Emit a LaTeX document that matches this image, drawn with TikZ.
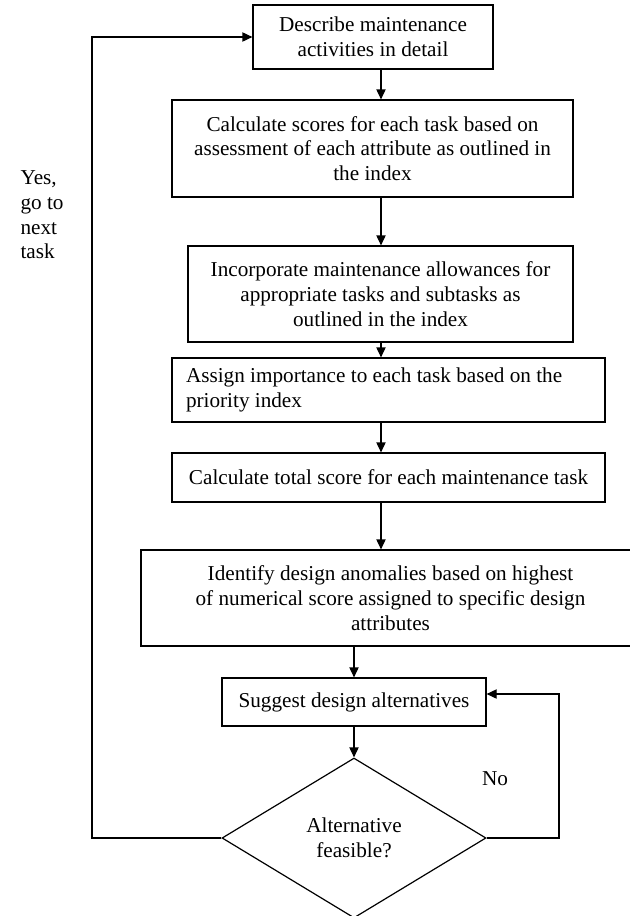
\documentclass[tikz,border=0pt]{standalone}
\usepackage{fontspec}
\setmainfont{Liberation Serif}
\usetikzlibrary{arrows.meta,positioning,shapes.geometric}
\newcommand\fsz{\fontsize{10.6}{12.4}\selectfont}

\begin{document}
\begin{tikzpicture}[x=0.5pt,y=-0.5pt,line width=0.6pt,
  box/.style={draw,rectangle,inner sep=0pt,align=center,font=\fsz},
  arr/.style={-{Triangle[length=5pt,width=4.6pt]}}]
  \useasboundingbox (0,0) rectangle (630,916);
  % process boxes, one unit = 1px of the page
  \node[box,minimum width=120pt,minimum height=32pt] (b1) at (373,37)
    {Describe maintenance\\activities in detail};
  \node[box,minimum width=200.5pt,minimum height=48.5pt] (b2) at (372.5,148.5)
    {Calculate scores for each task based on\\assessment of each attribute as outlined in\\the index};
  \node[box,minimum width=192.5pt,minimum height=48pt] (b3) at (380.5,294)
    {Incorporate maintenance allowances for\\appropriate tasks and subtasks as\\outlined in the index};
  \node[box,minimum width=216.5pt,minimum height=32pt,align=flush left,text width=202.5pt] (b4) at (388.5,390)
    {Assign importance to each task based on the\\priority index};
  \node[box,minimum width=216.5pt,minimum height=24.5pt] (b5) at (388.5,477.5)
    {Calculate total score for each maintenance task};
  \node[box,minimum width=249.5pt,minimum height=48pt] (b6) at (390.5,598)
    {Identify design anomalies based on highest\\of numerical score assigned to specific design\\attributes};
  \node[box,minimum width=132pt,minimum height=24pt] (b7) at (354,702)
    {Suggest design alternatives};
  \node[draw,diamond,inner sep=0pt,minimum width=132pt,minimum height=80pt,
    align=center,font=\fsz] (dec) at (354,838) {Alternative\\feasible?};

  % labels on the two loops
  \node[font=\fsz] (no) at (495,779) {No};
  \node[font=\fsz,align=left,anchor=north west,inner sep=0pt] (yes) at (20,170)
    {Yes,\\go to\\next\\task};

  % main flow
  \coordinate (spine) at (381,0);
  \draw[arr] (spine |- b1.south) -- (spine |- b2.north);
  \draw[arr] (spine |- b2.south) -- (spine |- b3.north);
  \draw[arr] (spine |- b3.south) -- (spine |- b4.north);
  \draw[arr] (spine |- b4.south) -- (spine |- b5.north);
  \draw[arr] (spine |- b5.south) -- (spine |- b6.north);
  \draw[arr] (b7.north |- b6.south) -- (b7.north);
  \draw[arr] (b7.south) -- (dec.north);

  % yes / no loops
  \coordinate (yesbend) at (92,838);
  \coordinate (nobend) at (559,838);
  \draw[arr] (dec.west) -- (yesbend) |- (b1.west);
  \draw[arr] (dec.east) -- (nobend) |- ([yshift=4pt]b7.east);
\end{tikzpicture}
\end{document}
